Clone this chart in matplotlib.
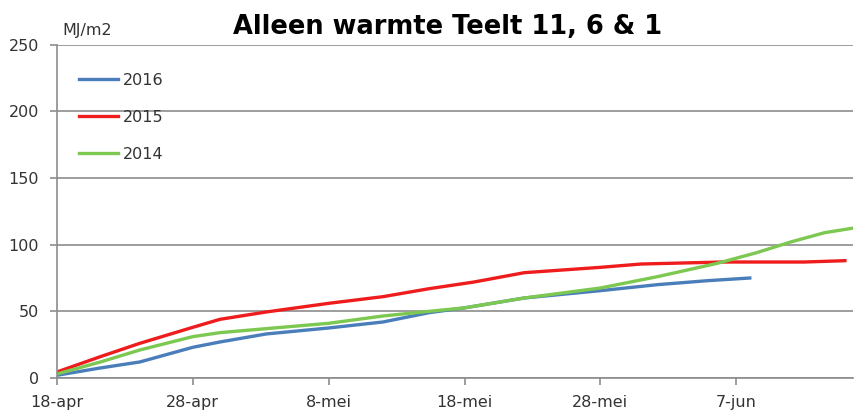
import matplotlib
matplotlib.use('Agg')
import matplotlib.pyplot as plt
import numpy as np

# days after 18-apr, cumulative radiation MJ/m2
days_2016 = [0, 3.2, 6.1, 10, 12, 15.4, 20, 24, 27.4, 30, 34.4, 40, 44.2, 47.9, 51]
vals_2016 = [2, 7.5, 12, 23, 27, 33, 37.5, 42, 49, 52.6, 60, 65.5, 70, 73, 75]

days_2015 = [0, 3.2, 6.1, 10, 12, 15.4, 20, 24, 27.4, 30.7, 34.4, 40, 43, 49, 55, 58]
vals_2015 = [4.5, 16, 26, 38, 44, 49.5, 56, 61, 67, 72, 79, 83, 85.5, 87, 87, 88]

days_2014 = [0, 3.2, 6.1, 10, 12, 15.4, 20, 24, 27.4, 30, 34.4, 40, 44.2, 48.6, 51.5, 54, 56.5, 58.7]
vals_2014 = [3, 12, 21, 31, 34, 37, 41, 46.5, 50, 52.6, 60, 67.5, 76, 86, 94, 102, 109, 112.6]

tick_days = [0, 10, 20, 30, 40, 50]
tick_labels = ['18-apr', '28-apr', '8-mei', '18-mei', '28-mei', '7-jun']

fig = plt.figure(figsize=(8.55, 4.19), dpi=100)
ax = fig.add_axes([0.0667, 0.098, 0.931, 0.795])

ax.plot(days_2016, vals_2016, color='#4A7EBB', lw=2.4, label='2016')
ax.plot(days_2015, vals_2015, color='#EE1C1C', lw=2.4, label='2015')
ax.plot(days_2014, vals_2014, color='#7DC850', lw=2.4, label='2014')

ax.set_xlim(0, 58.6)
ax.set_ylim(0, 250)
ax.set_yticks(np.arange(0, 251, 50))
ax.set_xticks(tick_days)
ax.set_xticklabels(tick_labels)
ax.grid(axis='y', color='#8c8c8c', lw=1.2)
ax.set_axisbelow(True)
for s in ['top', 'right']:
    ax.spines[s].set_visible(False)
for s in ['left', 'bottom']:
    ax.spines[s].set_color('#8c8c8c')
    ax.spines[s].set_linewidth(1.2)
ax.tick_params(colors='#8c8c8c', labelcolor='#333333', labelsize=11.5, length=5, width=1.2)
ax.tick_params(axis='x', pad=7)
ax.tick_params(axis='y', pad=8)

leg = ax.legend(loc='upper left', bbox_to_anchor=(0.009, 0.96), frameon=False,
                fontsize=11.5, handlelength=2.5, handletextpad=0.25, labelspacing=1.38)
for t in leg.get_texts():
    t.set_color('#333333')

fig.text(0.523, 0.935, 'Alleen warmte Teelt 11, 6 & 1', ha='center', va='center',
         fontsize=18.5, fontweight='bold', color='black')
fig.text(0.073, 0.928, 'MJ/m2', ha='left', va='center', fontsize=11.5, color='#333333')

fig.savefig('out.png', dpi=100)
